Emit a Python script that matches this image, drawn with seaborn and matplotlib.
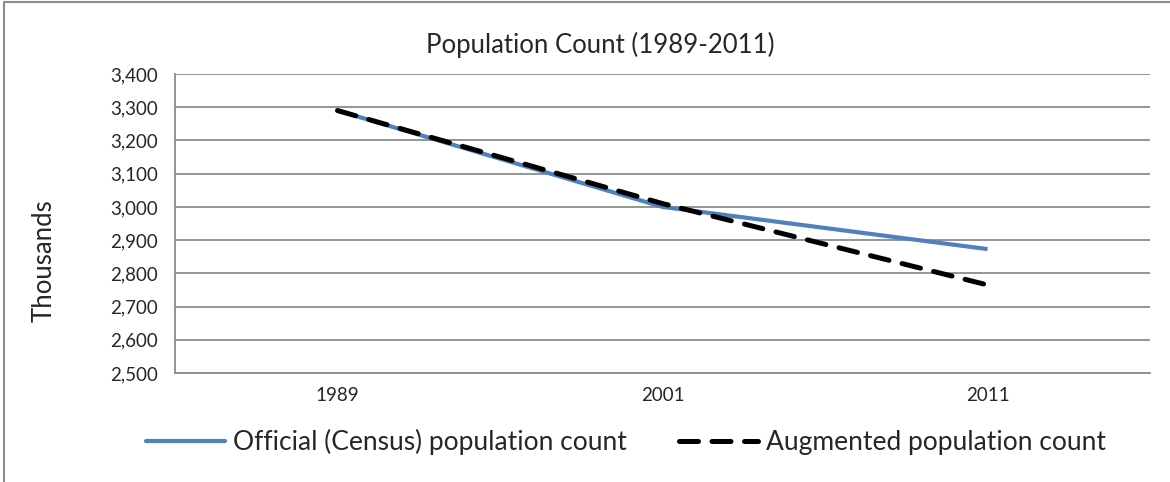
import pandas as pd
import numpy as np
import matplotlib
matplotlib.use("Agg")
import matplotlib.pyplot as plt
import seaborn as sns
from matplotlib.lines import Line2D

# values (thousands)
years = ["1989", "2001", "2011"]
official = [3290, 3000, 2873]
augmented = [3290, 3010, 2765]

series_names = ["Official (Census) population count", "Augmented population count"]

data = pd.DataFrame({
    "year": years * 2,
    "pos": list(range(len(years))) * 2,
    "value": official + augmented,
    "series": [series_names[0]] * 3 + [series_names[1]] * 3,
})

sns.set_style("white")
plt.rcParams["font.family"] = ["Lato", "DejaVu Sans"]

fig = plt.figure(figsize=(11.7, 4.82), dpi=100)
ax = fig.add_axes([175 / 1170, 1 - 373 / 482, (1150 - 175) / 1170, (373 - 74) / 482])

blue = "#4F81BD"
grid_c = "#8C8C8C"

sns.lineplot(data=data[data.series == series_names[0]], x="pos", y="value",
             color=blue, linewidth=3.0, ax=ax, legend=False)
sns.lineplot(data=data[data.series == series_names[1]], x="pos", y="value",
             color="black", linewidth=3.6, ax=ax, legend=False)
ax.lines[1].set_dashes((3.8, 2.7))
ax.lines[1].set_dash_capstyle("round")
ax.lines[0].set_solid_capstyle("butt")

ax.set_xlim(-0.5, len(years) - 0.5)
ax.set_ylim(2500, 3400)
ax.set_yticks(np.arange(2500, 3401, 100))
ax.set_yticklabels([f"{v:,}" for v in range(2500, 3401, 100)], fontsize=13.5)

# category labels centred, tick marks between categories
ax.set_xticks(np.arange(-0.5, len(years), 1.0))
ax.set_xticklabels([])
ax.set_xticks(range(len(years)), minor=True)
ax.set_xticklabels(years, minor=True, fontsize=13.5)
ax.tick_params(axis="x", which="major", length=6, color=grid_c, direction="out")
ax.tick_params(axis="x", which="minor", length=0, pad=10)
ax.tick_params(axis="y", length=6, color=grid_c, direction="out", pad=6)

ax.grid(axis="y", color=grid_c, linewidth=1.3)
ax.set_axisbelow(True)
for s in ["top", "right"]:
    ax.spines[s].set_visible(False)
for s in ["left", "bottom"]:
    ax.spines[s].set_color(grid_c)
    ax.spines[s].set_linewidth(1.3)

ax.set_xlabel("")
ax.set_ylabel("Thousands", fontsize=18.5)
ax.yaxis.set_label_coords(-0.121, 0.375)
fig.text(600 / 1170, 1 - 45 / 482, "Population Count (1989-2011)", fontsize=18.5,
         ha="center", va="center")

handles = [
    Line2D([], [], color=blue, linewidth=3.0),
    Line2D([], [], color="black", linewidth=3.6, dashes=(3.8, 2.7), dash_capstyle="round"),
]
fig.legend(handles, series_names, loc="center", bbox_to_anchor=(0.535, 1 - 442 / 482),
           ncol=2, frameon=False, fontsize=19, handlelength=3.0, handletextpad=0.3,
           columnspacing=2.0)

# outer chart border (top and left visible)
fig.add_artist(Line2D([4 / 1170, 4 / 1170], [0, 1 - 2 / 482], transform=fig.transFigure,
                      color="#8C8C8C", linewidth=1.5))
fig.add_artist(Line2D([4 / 1170, 1], [1 - 2 / 482, 1 - 2 / 482], transform=fig.transFigure,
                      color="#8C8C8C", linewidth=1.5))

fig.savefig("out.png", dpi=100)
